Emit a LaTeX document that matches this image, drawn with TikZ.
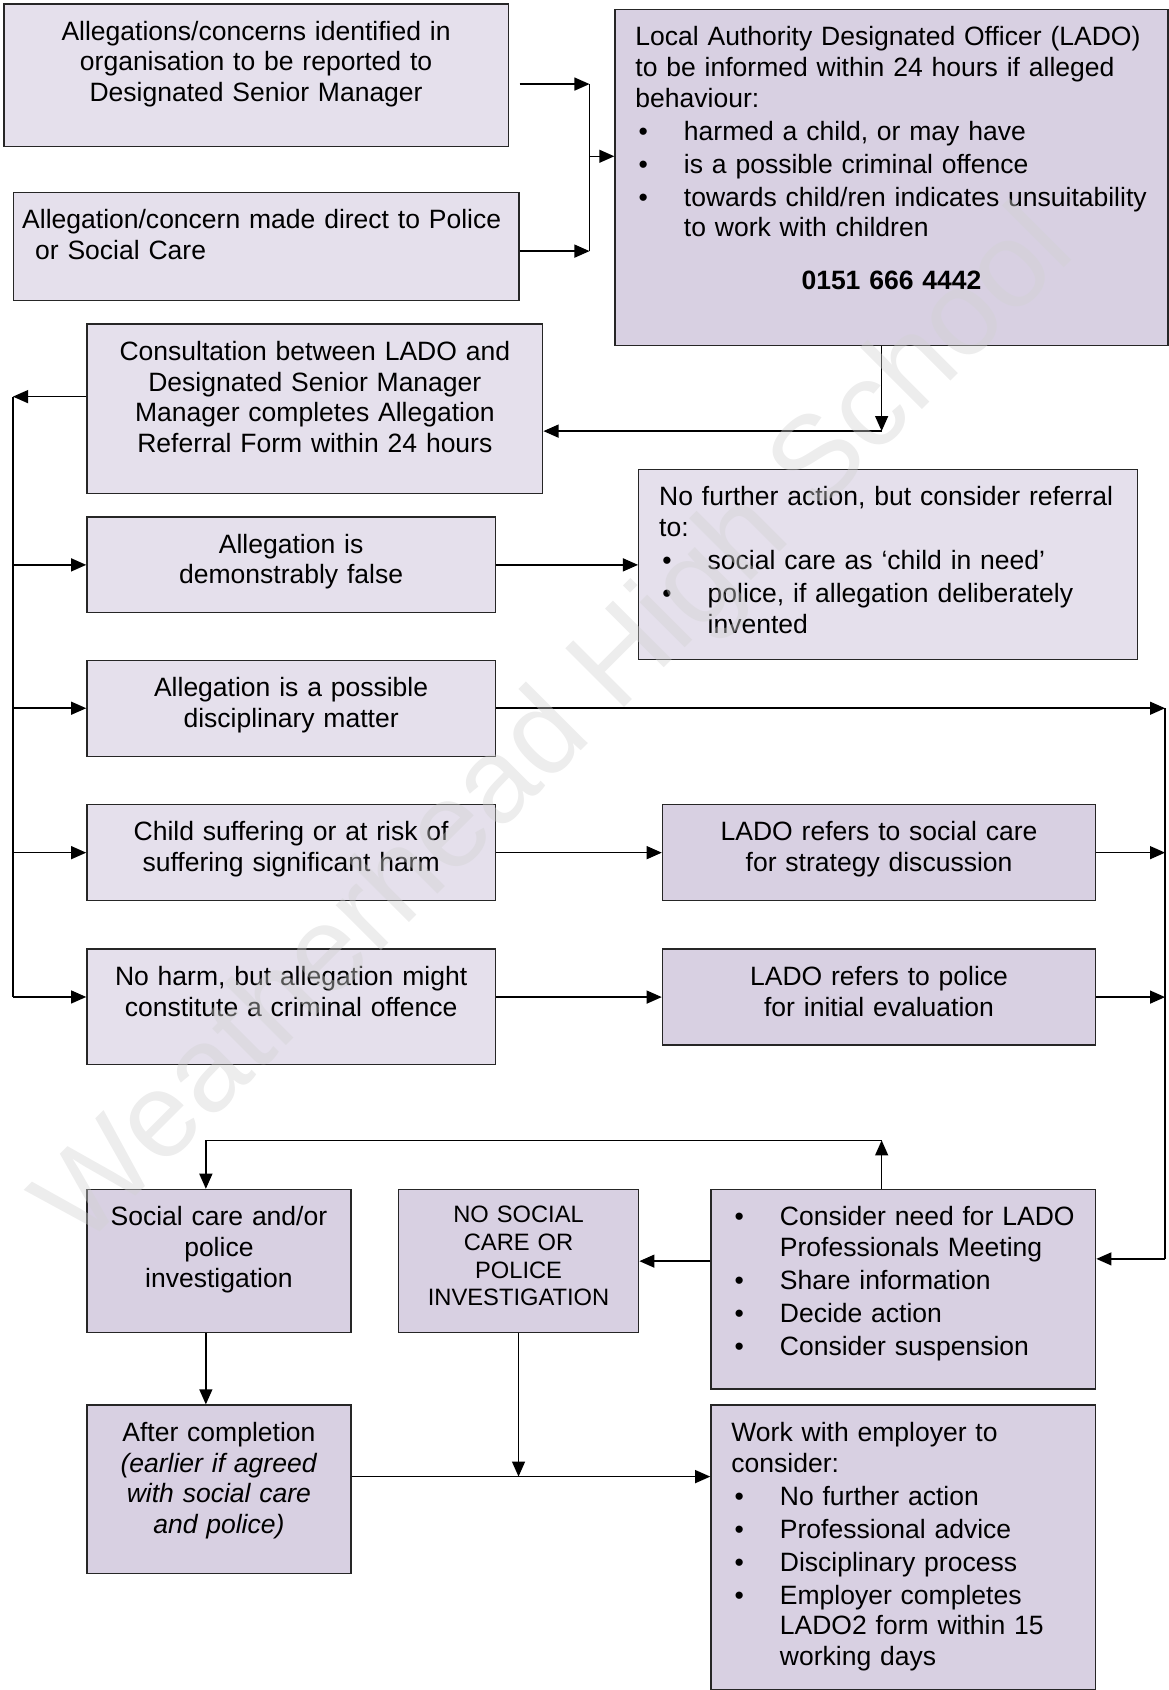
\documentclass[tikz,border=0pt]{standalone}
\usepackage{fontspec}
\setmainfont{Liberation Sans}
\usetikzlibrary{arrows.meta,calc}

\definecolor{lavlight}{HTML}{E5E0EC}
\definecolor{lavdark}{HTML}{D8D0E2}

\newcommand{\bul}{\hangindent=22.5pt\hangafter=1\hspace*{1.5pt}\makebox[21pt][l]{\textbullet}}
\newcommand{\nextbul}{\par\vspace{1pt}\bul}

\tikzset{
  box/.style={draw=black!85, line width=0.6pt, anchor=north west, inner ysep=0pt,
    font=\fontsize{12.3}{14.3}\selectfont, text height=16.8pt},
  cbox/.style 2 args={box, align=center, inner xsep=2pt,
    text width=#1*0.5pt-4pt, text depth=#2*0.5pt-16.8pt},
  lbox/.style 2 args={box, align=left, inner xsep=9.5pt,
    text width=#1*0.5pt-19pt, text depth=#2*0.5pt-16.8pt},
  arr/.style={line width=0.7pt, -{Triangle[length=7pt,width=6pt]}},
  wire/.style={line width=0.7pt}
}

\begin{document}
\begin{tikzpicture}[x=0.5pt, y=-0.5pt]
  \useasboundingbox (0,0) rectangle (1084,1568);

  % top row
  \node (orgrep) [cbox={468}{132}, fill=lavlight] at (3,3) {Allegations/concerns identified in\\organisation to be reported to\\Designated Senior Manager};
  \node (direct) [lbox={469}{100}, fill=lavlight, inner xsep=4pt, text width=226.5pt] at (12,178) {Allegation/concern made direct to Police\\\hspace*{6pt}or Social Care};
  \node (lado) [lbox={513}{312}, fill=lavdark] at (570,8) {Local Authority Designated Officer (LADO)\\to be informed within 24 hours if alleged\\behaviour:\nextbul harmed a child, or may have\nextbul is a possible criminal offence\nextbul towards child/ren indicates unsuitability\newline to work with children\par\vspace{10.2pt}{\centering\bfseries 0151 666 4442\par}};

  % middle rows
  \node (consult) [cbox={423}{157}, fill=lavlight] at (80,300) {Consultation between LADO and\\Designated Senior Manager\\Manager completes Allegation\\Referral Form within 24 hours};
  \node (falsebox) [cbox={379}{89}, fill=lavlight] at (80,479) {Allegation is\\demonstrably false};
  \node (nfa) [lbox={463}{176}, fill=lavlight] at (592,435) {No further action, but consider referral\\to:\nextbul social care as ‘child in need’\nextbul police, if allegation deliberately\newline invented\par};
  \node (discip) [cbox={379}{89}, fill=lavlight] at (80,612) {Allegation is a possible\\disciplinary matter};
  \node (harm) [cbox={379}{89}, fill=lavlight] at (80,746) {Child suffering or at risk of\\suffering significant harm};
  \node (lsocial) [cbox={402}{89}, fill=lavdark] at (614,746) {LADO refers to social care\\for strategy discussion};
  \node (crime) [cbox={379}{107}, fill=lavlight] at (80,880) {No harm, but allegation might\\constitute a criminal offence};
  \node (lpolice) [cbox={402}{89}, fill=lavdark] at (614,880) {LADO refers to police\\for initial evaluation};

  % bottom rows
  \node (sinvest) [cbox={245}{133}, fill=lavdark] at (80,1103) {Social care and/or\\police\\investigation};
  \node (noinv) [cbox={223}{133}, fill=lavdark, font=\fontsize{11}{12.8}\selectfont, text height=15.5pt, text depth=51pt] at (369,1103) {NO SOCIAL\\CARE OR\\POLICE\\INVESTIGATION};
  \node (consider) [lbox={357}{185}, fill=lavdark] at (659,1103) {\bul Consider need for LADO\newline Professionals Meeting\nextbul Share information\nextbul Decide action\nextbul Consider suspension\par};
  \node (after) [cbox={245}{156}, fill=lavdark] at (80,1303) {After completion\\\textit{(earlier if agreed}\\\textit{with social care}\\\textit{and police)}};
  \node (employer) [lbox={357}{264}, fill=lavdark] at (659,1303) {Work with employer to\newline consider:\nextbul No further action\nextbul Professional advice\nextbul Disciplinary process\nextbul Employer completes\newline LADO2 form within 15\newline working days\par};

  % junctions
  \coordinate (jtop) at (547,78);
  \coordinate (jmid) at (547,145);
  \coordinate (jbot) at (547,233);
  \coordinate (jdown) at (818,400);
  \coordinate (jleft) at (12,368);
  \coordinate (jend) at (12,925);
  \coordinate (rtop) at (1081,657);
  \coordinate (rbot) at (1081,1168);
  \coordinate (jup) at (818,1058);
  \coordinate (jsoc) at (191,1058);
  \coordinate (jmerge) at (481,1370);

  \draw[arr] ($(orgrep.east |- jtop)+(5pt,0)$) -- (jtop);
  \draw[arr] (direct.east |- jbot) -- (jbot);
  \draw[wire] (jtop) -- (jbot);
  \draw[arr] (jmid) -- (lado.west |- jmid);
  \draw[arr] (lado.south -| jdown) -- (jdown);
  \draw[arr] (jdown) -- (consult.east |- jdown);

  \draw[arr] (consult.west |- jleft) -- (jleft);
  \draw[wire] (jleft) -- (jend);
  \foreach \n in {falsebox,discip,harm}
    \draw[arr] (jleft |- \n.west) -- (\n.west);
  \draw[arr] (jend) -- (crime.west |- jend);

  \draw[arr] (falsebox.east) -- (nfa.west |- falsebox.east);
  \draw[arr] (discip.east) -- (rtop |- discip.east);
  \draw[arr] (harm.east) -- (lsocial.west |- harm.east);
  \draw[arr] (crime.east |- lpolice.west) -- (lpolice.west);
  \foreach \n in {lsocial,lpolice}
    \draw[arr] (\n.east) -- (rtop |- \n.east);
  \draw[wire] (rtop |- discip.east) -- (rbot);
  \draw[arr] (rbot) -- (consider.east |- rbot);

  \draw[arr] (consider.north -| jup) -- (jup);
  \draw[arr] (jup) -- (jsoc) -- (jsoc |- sinvest.north);
  \draw[arr] (consider.west |- noinv.east) -- (noinv.east);
  \draw[arr] (jsoc |- sinvest.south) -- (jsoc |- after.north);
  \draw[arr] (noinv.south) -- (noinv.south |- jmerge);
  \draw[arr] (after.east |- jmerge) -- (employer.west |- jmerge);

  % watermark over everything
  \node (wmark) [rotate=45, text=black!18, text opacity=0.4, font=\fontsize{56}{60}\selectfont] at (518,677) {Weatherhead High School};
\end{tikzpicture}
\end{document}
